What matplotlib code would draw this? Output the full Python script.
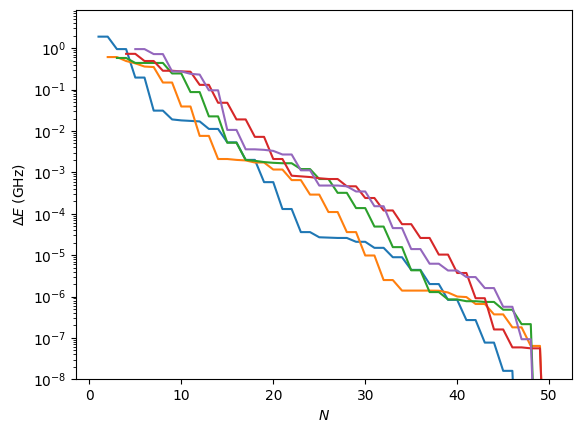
import numpy as np
import matplotlib
matplotlib.use("Agg")
import matplotlib.pyplot as plt

tiny = 1e-13  # values that fall far below the plotted range

# Delta E (GHz) vs N, one list per curve, each starting at a different N
n_blue = list(range(1, 51))
de_blue = [1.9, 1.9, 0.95, 0.95, 0.195, 0.195, 0.031, 0.031, 0.019, 0.018,
           0.0175, 0.017, 0.0112, 0.0112, 0.0053, 0.0053, 0.002, 0.002, 5.8e-4, 5.8e-4,
           1.3e-4, 1.3e-4, 3.6e-5, 3.6e-5, 2.7e-5, 2.65e-5, 2.6e-5, 2.6e-5, 2.1e-5, 2.1e-5,
           1.5e-5, 1.5e-5, 8.9e-6, 8.9e-6, 4.4e-6, 4.4e-6, 2.0e-6, 2.0e-6, 8.3e-7, 8.3e-7,
           2.7e-7, 2.7e-7, 7.7e-8, 7.7e-8, 1.6e-8, 1.6e-8, tiny, tiny, tiny, tiny]

n_orange = list(range(2, 51))
de_orange = [0.61, 0.61, 0.49, 0.43, 0.36, 0.35, 0.148, 0.148, 0.039, 0.039,
             0.0076, 0.0076, 0.0021, 0.0021, 0.002, 0.00194, 0.00173, 0.00173, 1.17e-3, 1.17e-3,
             6.5e-4, 6.5e-4, 2.9e-4, 2.9e-4, 1.1e-4, 1.1e-4, 3.6e-5, 3.6e-5, 9.8e-6, 9.8e-6,
             2.5e-6, 2.5e-6, 1.39e-6, 1.39e-6, 1.39e-6, 1.39e-6, 1.38e-6, 1.25e-6, 1.0e-6, 9.7e-7,
             6.6e-7, 6.6e-7, 3.7e-7, 3.7e-7, 1.8e-7, 1.8e-7, 6.4e-8, 6.4e-8, tiny]

n_green = list(range(3, 51))
de_green = [0.58, 0.58, 0.44, 0.44, 0.44, 0.44, 0.245, 0.245, 0.087, 0.087,
            0.0225, 0.0225, 0.0052, 0.0052, 0.002, 1.9e-3, 1.77e-3, 1.7e-3, 1.66e-3, 1.66e-3,
            1.2e-3, 1.2e-3, 6.9e-4, 6.9e-4, 3.2e-4, 3.2e-4, 1.37e-4, 1.37e-4, 4.9e-5, 4.9e-5,
            1.56e-5, 1.56e-5, 4.3e-6, 4.3e-6, 1.28e-6, 1.28e-6, 8.5e-7, 8.5e-7, 7.7e-7, 7.7e-7,
            7.4e-7, 7.4e-7, 4.8e-7, 4.8e-7, 2.15e-7, 2.15e-7, tiny, tiny]

n_red = list(range(4, 51))
de_red = [0.73, 0.73, 0.49, 0.49, 0.285, 0.285, 0.275, 0.27, 0.13, 0.13,
          0.048, 0.048, 0.019, 0.019, 0.0072, 0.0072, 0.0021, 0.0021, 8.3e-4, 8.0e-4,
          7.7e-4, 7.2e-4, 6.9e-4, 6.9e-4, 4.6e-4, 4.6e-4, 2.4e-4, 2.4e-4, 1.2e-4, 1.2e-4,
          5.6e-5, 5.6e-5, 2.6e-5, 2.6e-5, 1.03e-5, 1.03e-5, 3.7e-6, 3.7e-6, 9.1e-7, 9.1e-7,
          1.6e-7, 1.6e-7, 5.9e-8, 5.9e-8, 5.6e-8, 5.6e-8, tiny]

n_purple = list(range(5, 51))
de_purple = [0.95, 0.95, 0.72, 0.72, 0.275, 0.275, 0.24, 0.23, 0.096, 0.096,
             0.0106, 0.0106, 0.0036, 0.0036, 3.5e-3, 3.3e-3, 2.7e-3, 2.7e-3, 1.12e-3, 1.12e-3,
             4.8e-4, 4.8e-4, 4.8e-4, 4.6e-4, 3.45e-4, 3.45e-4, 1.52e-4, 1.52e-4, 4.5e-5, 4.5e-5,
             1.4e-5, 1.4e-5, 6.2e-6, 6.2e-6, 4.25e-6, 4.25e-6, 2.95e-6, 2.95e-6, 1.6e-6, 1.6e-6,
             5.65e-7, 5.65e-7, 9.3e-8, 9.3e-8, tiny, tiny]

fig, ax = plt.subplots(figsize=(5.8, 4.32), dpi=100)
fig.subplots_adjust(left=0.131, right=0.9857, bottom=0.122, top=0.978)

ax.plot(n_blue, de_blue)
ax.plot(n_orange, de_orange)
ax.plot(n_green, de_green)
ax.plot(n_red, de_red)
ax.plot(n_purple, de_purple)

ax.set_yscale('log')
ax.set_ylim(1e-8, 8.6)
ax.set_xlabel(r'$N$')
ax.set_ylabel(r'$\Delta E$ (GHz)')

fig.savefig('out.png', dpi=100)
